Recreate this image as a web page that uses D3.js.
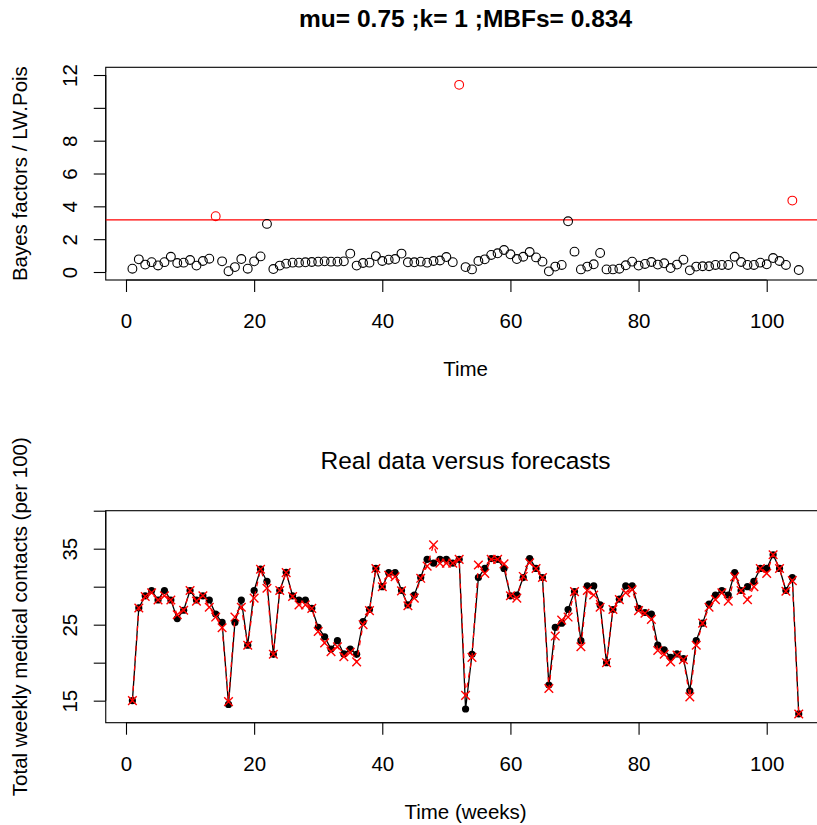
<!DOCTYPE html>
<html>
<head>
<meta charset="utf-8">
<script src="https://cdn.jsdelivr.net/npm/d3@7"></script>
<style>
  html, body { margin: 0; padding: 0; background: #fff; overflow: hidden; }
  svg { display: block; font-family: "Liberation Sans", Arial, sans-serif; }
</style>
</head>
<body>
<svg id="chart" width="817" height="825"></svg>
<script>
// Bayes factors per week
const bayesFactors = [
  0.20, 0.77, 0.45, 0.60, 0.40, 0.60, 0.93, 0.55, 0.57, 0.73,
  0.39, 0.67, 0.81, 3.40, 0.65, 0.05, 0.30, 0.79, 0.20, 0.65,
  0.95, 2.93, 0.18, 0.39, 0.51, 0.57, 0.57, 0.59, 0.61, 0.63,
  0.65, 0.63, 0.63, 0.65, 1.12, 0.39, 0.55, 0.57, 0.97, 0.67,
  0.75, 0.79, 1.12, 0.59, 0.59, 0.63, 0.57, 0.67, 0.70, 0.91,
  0.60, 11.40, 0.30, 0.16, 0.67, 0.77, 1.04, 1.14, 1.34, 1.08,
  0.79, 0.93, 1.22, 0.89, 0.63, 0.04, 0.33, 0.43, 3.09, 1.24,
  0.16, 0.33, 0.47, 1.16, 0.16, 0.16, 0.20, 0.41, 0.63, 0.39,
  0.49, 0.61, 0.45, 0.53, 0.24, 0.45, 0.75, 0.10, 0.33, 0.35,
  0.35, 0.43, 0.43, 0.43, 0.93, 0.61, 0.43, 0.43, 0.57, 0.47,
  0.85, 0.67, 0.43, 4.35, 0.12
];
const bfThreshold = 3.17;

// Observed weekly medical contacts (per 100)
const realData = [
  15.0, 27.2, 28.8, 29.5, 28.25, 29.5, 28.25, 25.8, 26.9, 29.5,
  28.25, 28.8, 28.25, 26.4, 25.3, 14.5, 25.3, 28.25, 22.3, 29.5,
  32.3, 30.7, 21.1, 29.5, 31.9, 28.8, 28.25, 28.25, 27.15, 24.65,
  23.4, 21.8, 22.9, 21.15, 21.8, 21.1, 25.4, 27.0, 32.4, 30.0,
  31.85, 31.85, 29.5, 27.6, 28.9, 31.2, 33.6, 33.1, 33.6, 33.6,
  33.1, 33.6, 13.9, 21.1, 31.2, 32.4, 33.7, 33.6, 32.4, 28.8,
  28.9, 31.2, 33.7, 32.4, 31.2, 17.05, 24.65, 25.2, 27.0, 29.35,
  22.9, 30.1, 30.1, 27.6, 20.0, 27.0, 28.35, 30.1, 30.1, 27.15,
  26.6, 26.4, 22.3, 21.7, 20.7, 21.15, 20.55, 16.3, 22.9, 25.2,
  27.7, 28.9, 29.5, 28.9, 31.85, 29.5, 30.0, 30.7, 32.4, 32.4,
  34.2, 32.4, 29.5, 31.2, 13.25
];

// One-step-ahead forecasts
const forecasts = [
  15.0, 27.2, 28.7, 29.2, 28.25, 28.8, 28.25, 26.3, 26.9, 29.5,
  28.1, 28.8, 27.3, 26.0, 24.6, 14.87, 26.0, 27.3, 22.3, 28.5,
  32.3, 29.8, 21.1, 29.5, 31.85, 28.7, 27.6, 27.6, 27.15, 24.1,
  22.6, 21.45, 22.1, 20.8, 21.35, 20.1, 25.0, 26.85, 32.4, 30.0,
  31.5, 31.3, 29.45, 27.5, 28.5, 31.1, 32.7, 35.5, 33.1, 33.1,
  33.1, 33.6, 15.7, 20.7, 32.85, 31.75, 33.6, 33.6, 33.0, 28.8,
  28.5, 31.35, 33.15, 32.4, 31.2, 16.6, 23.5, 25.6, 26.0, 29.35,
  22.1, 29.5, 28.9, 27.3, 20.0, 27.0, 28.3, 29.2, 29.6, 26.85,
  26.5, 25.7, 21.6, 21.1, 20.1, 21.0, 20.4, 15.5, 22.3, 25.2,
  27.3, 28.3, 29.2, 28.1, 31.3, 29.5, 28.3, 30.0, 32.4, 31.75,
  34.2, 32.4, 29.4, 30.8, 13.25
];

const weeks = d3.range(1, bayesFactors.length + 1);

const xTicks = [0, 20, 40, 60, 80, 100];
const xTickLabels = ["0", "20", "40", "60", "80", "100"];
const yTicksTop = [0, 2, 4, 6, 8, 10, 12];
const yTickLabelsTop = ["0", "2", "4", "6", "8", "", "12"];
const yTicksBottom = [15, 20, 25, 30, 35, 40];
const yTickLabelsBottom = ["15", "", "25", "", "35", ""];

const mainTitle = "mu= 0.75 ;k= 1 ;MBFs= 0.834";
const bottomTitle = "Real data versus forecasts";

const svg = d3.select("#chart");
const FS = 20.5;
const tickLen = 12;

// shared horizontal scale (R-style 4% padding around 1..105)
const pad = (105 - 1) * 0.04;
const x = d3.scaleLinear().domain([1 - pad, 105 + pad]).range([105.75, 825.4]);

function panel(g, y, yTicks, yLabels, xTitle, yTitle) {
  const [y0, y1] = y.range();
  const [xl, xr] = x.range();
  // box
  g.append("rect").attr("x", xl).attr("y", y1).attr("width", xr - xl).attr("height", y0 - y1)
    .attr("fill", "none").attr("stroke", "#000").attr("stroke-width", 1.1);

  // x axis
  const xa = g.append("g").attr("transform", `translate(0,${y0})`)
    .call(d3.axisBottom(x).tickValues(xTicks).tickSize(tickLen).tickSizeOuter(0)
      .tickFormat((d, i) => xTickLabels[i]));
  xa.select(".domain").attr("d", `M${x(xTicks[0])},0H${x(xTicks[xTicks.length - 1])}`).attr("stroke-width", 1.1);
  xa.selectAll(".tick line").attr("stroke-width", 1.1);
  xa.selectAll(".tick text").attr("font-size", FS).attr("font-family", "Liberation Sans, Arial, sans-serif")
    .attr("y", 0).attr("dy", 0).attr("transform", "translate(0,48)");

  // y axis
  const ya = g.append("g").attr("transform", `translate(${xl},0)`)
    .call(d3.axisLeft(y).tickValues(yTicks).tickSize(tickLen).tickSizeOuter(0)
      .tickFormat((d, i) => yLabels[i]));
  ya.select(".domain").attr("d", `M0,${y(yTicks[0])}V${y(yTicks[yTicks.length - 1])}`).attr("stroke-width", 1.1);
  ya.selectAll(".tick line").attr("stroke-width", 1.1);
  ya.selectAll(".tick text").attr("font-size", FS).attr("font-family", "Liberation Sans, Arial, sans-serif")
    .attr("x", 0).attr("dy", 0).attr("text-anchor", "middle")
    .attr("transform", "translate(-29,0) rotate(-90)");

  // axis titles
  g.append("text").attr("x", (xl + xr) / 2).attr("y", y0 + 96)
    .attr("text-anchor", "middle").attr("font-size", FS).text(xTitle);
  g.append("text").attr("transform", `translate(27,${(y0 + y1) / 2}) rotate(-90)`)
    .attr("text-anchor", "middle").attr("font-size", FS).text(yTitle);
}

// ---- Top panel: Bayes factors ----
const yTop = d3.scaleLinear().domain([-0.487, 12.47]).range([280, 67.3]);
const gTop = svg.append("g");
panel(gTop, yTop, yTicksTop, yTickLabelsTop, "Time", "Bayes factors / LW.Pois");

gTop.append("line")
  .attr("x1", x.range()[0]).attr("x2", x.range()[1])
  .attr("y1", yTop(bfThreshold)).attr("y2", yTop(bfThreshold))
  .attr("stroke", "#ff0000").attr("stroke-width", 1.3);

gTop.selectAll("circle.bf").data(weeks).join("circle")
  .attr("class", "bf")
  .attr("cx", t => x(t)).attr("cy", (t, i) => yTop(bayesFactors[i]))
  .attr("r", 4.4).attr("fill", "none").attr("stroke-width", 1.1)
  .attr("stroke", (t, i) => bayesFactors[i] > bfThreshold ? "#ff0000" : "#000");

svg.append("text").attr("x", (x.range()[0] + x.range()[1]) / 2).attr("y", 27)
  .attr("text-anchor", "middle").attr("font-size", 24.5).attr("font-weight", "bold")
  .text(mainTitle);

// ---- Bottom panel: real data vs forecasts ----
const yBot = d3.scaleLinear().domain([12.1, 40]).range([722.7, 510.7]);
const gBot = svg.append("g");
panel(gBot, yBot, yTicksBottom, yTickLabelsBottom, "Time (weeks)", "Total weekly medical contacts (per 100)");

svg.append("text").attr("x", (x.range()[0] + x.range()[1]) / 2).attr("y", 469)
  .attr("text-anchor", "middle").attr("font-size", 24.5)
  .text(bottomTitle);

const lineReal = d3.line().x(t => x(t)).y((t, i) => yBot(realData[i]));
const lineFc = d3.line().x(t => x(t)).y((t, i) => yBot(forecasts[i]));

gBot.append("path").attr("d", lineReal(weeks)).attr("fill", "none")
  .attr("stroke", "#000").attr("stroke-width", 1.3);
gBot.selectAll("circle.real").data(weeks).join("circle")
  .attr("class", "real")
  .attr("cx", t => x(t)).attr("cy", (t, i) => yBot(realData[i]))
  .attr("r", 3.6).attr("fill", "#000");

gBot.append("path").attr("d", lineFc(weeks)).attr("fill", "none")
  .attr("stroke", "#ff0000").attr("stroke-width", 1.3).attr("stroke-dasharray", "5,5");
const xs = 4.3;
gBot.selectAll("path.fc").data(weeks).join("path")
  .attr("class", "fc")
  .attr("d", (t, i) => {
    const cx = x(t), cy = yBot(forecasts[i]);
    return `M${cx - xs},${cy - xs}L${cx + xs},${cy + xs}M${cx - xs},${cy + xs}L${cx + xs},${cy - xs}`;
  })
  .attr("stroke", "#ff0000").attr("stroke-width", 1.4).attr("fill", "none");
</script>
</body>
</html>
